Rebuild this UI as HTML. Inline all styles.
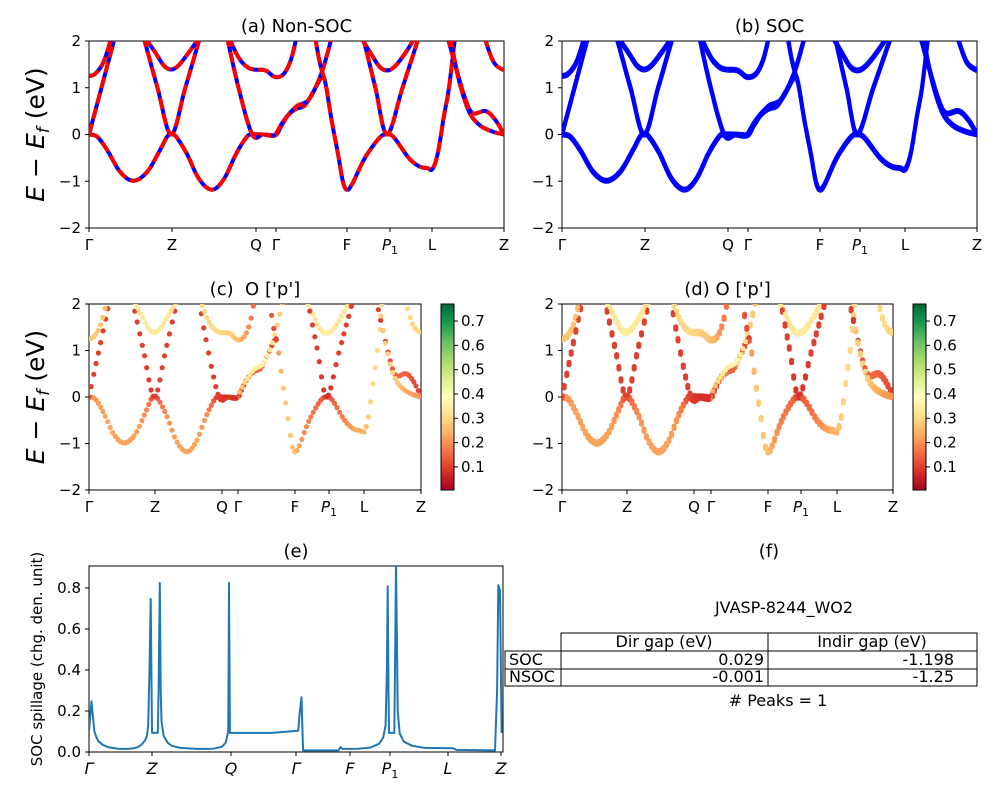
<!DOCTYPE html>
<html><head><meta charset="utf-8"><style>
html,body{margin:0;padding:0;background:#fff}
svg{display:block;font-family:"DejaVu Sans","Liberation Sans",sans-serif}
</style></head><body>
<svg id="fig" width="1000" height="800" viewBox="0 0 1000 800" xmlns="http://www.w3.org/2000/svg">
<defs>
<clipPath id="clipA"><rect x="89" y="41" width="415" height="187"/></clipPath>
<clipPath id="clipB"><rect x="562" y="41" width="415" height="187"/></clipPath>
<clipPath id="clipC"><rect x="89" y="304" width="332" height="186"/></clipPath>
<clipPath id="clipD"><rect x="562" y="304" width="331" height="186"/></clipPath>
<clipPath id="clipE"><rect x="89" y="566" width="414" height="186"/></clipPath>
<linearGradient id="cmap" x1="0" y1="1" x2="0" y2="0">
<stop offset="0" stop-color="#a50026"/><stop offset="0.1" stop-color="#d73027"/><stop offset="0.2" stop-color="#f46d43"/><stop offset="0.3" stop-color="#fdae61"/><stop offset="0.4" stop-color="#fee08b"/><stop offset="0.5" stop-color="#ffffbf"/><stop offset="0.6" stop-color="#d9ef8b"/><stop offset="0.7" stop-color="#a6d96a"/><stop offset="0.8" stop-color="#66bd63"/><stop offset="0.9" stop-color="#1a9850"/><stop offset="1" stop-color="#006837"/>
</linearGradient>
</defs>
<g id="layer"></g>
<g font-size="16" fill="#000">
<text x="784" y="613" text-anchor="middle">JVASP-8244_WO2</text>
<rect x="561" y="633" width="416" height="18" fill="none" stroke="#000"/>
<rect x="505" y="651" width="472" height="18" fill="none" stroke="#000"/>
<rect x="505" y="669" width="472" height="17" fill="none" stroke="#000"/>
<line x1="561" y1="633" x2="561" y2="686" stroke="#000"/>
<line x1="768" y1="633" x2="768" y2="686" stroke="#000"/>
<text x="664" y="647" text-anchor="middle">Dir gap (eV)</text>
<text x="872" y="647" text-anchor="middle">Indir gap (eV)</text>
<text x="509" y="665">SOC</text>
<text x="509" y="682">NSOC</text>
<text x="764" y="665" text-anchor="end">0.029</text>
<text x="954" y="665" text-anchor="end">-1.198</text>
<text x="764" y="682" text-anchor="end">-0.001</text>
<text x="954" y="682" text-anchor="end">-1.25</text>
<text x="778" y="706" text-anchor="middle"># Peaks = 1</text>
</g>
</svg>
<script>
// ---- data ----
const kLabels = ["Γ","Z","Q","Γ","F","P1","L","Z"];
const kRef = [0,0.2,0.402,0.451,0.622,0.725,0.826,1];
// bands: [k fraction, energy eV, O-p weight]
const band1 = [[0,0,.2],[.02,-.05,.21],[.045,-.35,.22],[.075,-.8,.22],[.107,-.99,.22],[.14,-.8,.22],[.17,-.35,.2],[.188,-.05,.14],[.198,0,.12],[.21,-.05,.14],[.235,-.4,.2],[.265,-.95,.22],[.296,-1.18,.22],[.325,-.95,.22],[.355,-.4,.2],[.38,-.05,.12],[.393,0,.1],[.42,0,.08],[.449,-.02,.08],[.465,.2,.1],[.481,.42,.12],[.5,.55,.14],[.52,.62,.15],[.54,.9,.13],[.561,1.22,.1],[.57,1.1,.2],[.585,.3,.27],[.6,-.4,.28],[.612,-1.0,.27],[.622,-1.18,.26],[.635,-1.05,.22],[.665,-.5,.18],[.7,-.07,.14],[.718,0,.12],[.735,-.07,.14],[.77,-.5,.18],[.795,-.68,.22],[.815,-.72,.24],[.827,-.74,.25],[.84,-.4,.28],[.855,.4,.3],[.867,1,.3],[.882,2.1,.3]];
const band2 = [[.449,-.02,.2],[.47,.3,.3],[.5,.6,.35],[.53,.75,.36],[.56,1.3,.3],[.586,2.1,.25]];
const band3 = [[0,0,.1],[.03,1.0,.1],[.063,2.1,.1]];
const band4 = [[0,1.25,.27],[.015,1.3,.27],[.035,1.55,.27],[.055,2.1,.25]];
const band5 = [[.131,2.1,.1],[.165,1.0,.1],[.198,0,.1],[.232,1.0,.1],[.268,2.1,.1]];
const band6 = [[.133,2.1,.33],[.16,1.75,.33],[.18,1.48,.33],[.198,1.39,.34],[.216,1.48,.33],[.24,1.75,.33],[.268,2.1,.3]];
const band7 = [[.332,2.1,.1],[.36,1.0,.1],[.393,0,.1],[.42,0,.08],[.449,-.02,.08]];
const band8 = [[.335,2.1,.3],[.36,1.65,.3],[.38,1.45,.3],[.397,1.39,.3],[.425,1.37,.28],[.449,1.23,.27],[.47,1.3,.22],[.487,1.6,.18],[.501,2.1,.15]];
const band9 = [[.654,2.1,.33],[.68,1.72,.33],[.7,1.45,.33],[.718,1.37,.34],[.736,1.45,.33],[.76,1.72,.33],[.787,2.1,.3]];
const band10 = [[.66,2.1,.1],[.69,1.0,.1],[.718,0,.08],[.755,1.0,.1],[.795,2.1,.1]];
const band11 = [[.952,2.1,.3],[.975,1.55,.3],[1,1.37,.3]];
const band12 = [[.863,2.1,.12],[.884,1.43,.08],[.905,.8,.12],[.924,.46,.15],[.956,.5,.15],[.98,.3,.12],[1,0,.1]];
const band13 = [[.87,2.1,.28],[.89,1.2,.28],[.915,.5,.3],[.94,.21,.25],[.97,.07,.22],[1,0,.2]];
const band14 = [[.545,2.1,.15],[.555,1.6,.12],[.565,1.25,.1]];
const bands = [band1,band2,band3,band4,band5,band6,band7,band8,band9,band10,band11,band12,band13,band14];
// spillage (e)
const spillK = [0,.006,.013,.018,.023,.033,.047,.07,.087,.105,
 .118,.127,.135,.14,.143,.146,.149,.151,.152,.166,
 .168,.171,.173,.175,.18,.19,.2,.22,.26,.3,
 .32,.33,.336,.337,.338,.34,.441,.505,.509,.513,
 .516,.517,.602,.607,.612,.65,.68,.7,.71,.716,
 .719,.721,.723,.724,.737,.739,.741,.743,.745,.75,
 .76,.78,.81,.879,.887,.98,.985,.988,.992,.996];
const spillV = [.1,.247,.1,.07,.052,.035,.023,.016,.015,.017,
 .024,.036,.055,.08,.13,.4,.746,.3,.093,.093,
 .3,.824,.3,.15,.08,.045,.03,.02,.015,.016,
 .025,.045,.1,.4,.824,.093,.093,.104,.2,.267,
 .05,.008,.008,.024,.015,.016,.022,.04,.07,.13,
 .4,.808,.3,.093,.093,.5,.909,.6,.2,.09,
 .05,.03,.02,.018,.01,.008,.3,.813,.789,.093];
const yTicksE = [-2,-1,0,1,2];
const cbTicks = [0.1,0.2,0.3,0.4,0.5,0.6,0.7];
const spillTicks = [0,0.2,0.4,0.6,0.8];

// ---- helpers ----
const NS="http://www.w3.org/2000/svg";
const layer=document.getElementById('layer');
function mk(tag,attrs,parent){const e=document.createElementNS(NS,tag);for(const k in attrs)e.setAttribute(k,attrs[k]);(parent||layer).appendChild(e);return e;}
const panels={
 a:{x0:89,x1:504,y0:41,y1:228,ticks:[89,172,256,276,347,390,432,504]},
 b:{x0:562,x1:977,y0:41,y1:228,ticks:[562,645,728,748,820,860,905,977]},
 c:{x0:89,x1:421,y0:304,y1:490,ticks:[89,155,222,238,295,329,364,421]},
 d:{x0:562,x1:893,y0:304,y1:490,ticks:[562,627,694,711,768,801,837,893]}
};
function xMap(p,k){for(let i=0;i<kRef.length-1;i++){if(k<=kRef[i+1]||i==kRef.length-2){const t=(k-kRef[i])/(kRef[i+1]-kRef[i]);return p.ticks[i]+t*(p.ticks[i+1]-p.ticks[i]);}}}
function yMap(p,E){return p.y1-(E+2)/4*(p.y1-p.y0);}
function dense(b){const out=[];for(let i=0;i<b.length-1;i++){const p0=b[Math.max(0,i-1)],p1=b[i],p2=b[i+1],p3=b[Math.min(b.length-1,i+2)];for(let s=0;s<20;s++){const t=s/20,t2=t*t,t3=t2*t;const f=(a,b2,c,d)=>0.5*((2*b2)+(-a+c)*t+(2*a-5*b2+4*c-d)*t2+(-a+3*b2-3*c+d)*t3);out.push([f(p0[0],p1[0],p2[0],p3[0]),f(p0[1],p1[1],p2[1],p3[1]),p1[2]+(p2[2]-p1[2])*t]);}}const l=b[b.length-1];out.push([l[0],l[1],l[2]]);return out;}
const stops=[[0,[165,0,38]],[.1,[215,48,39]],[.2,[244,109,67]],[.3,[253,174,97]],[.4,[254,224,139]],[.5,[255,255,191]],[.6,[217,239,139]],[.7,[166,217,106]],[.8,[102,189,99]],[.9,[26,152,80]],[1,[0,104,55]]];
function cmap(v){let n=(v-0.005)/0.765;n=Math.max(0,Math.min(1,n));for(let i=0;i<stops.length-1;i++){if(n<=stops[i+1][0]){const t=(n-stops[i][0])/(stops[i+1][0]-stops[i][0]);const c=stops[i][1].map((a,j)=>Math.round(a+t*(stops[i+1][1][j]-a)));return `rgb(${c.join(',')})`;}}return 'rgb(0,104,55)';}

function axes(p,name,title,withYLabel){
 mk('text',{x:(p.x0+p.x1)/2,y:p.y0-9,'text-anchor':'middle','font-size':18,'xml:space':'preserve'}).textContent=title;
 mk('rect',{x:p.x0,y:p.y0,width:p.x1-p.x0,height:p.y1-p.y0,fill:'none',stroke:'#000','stroke-width':1,});
 yTicksE.forEach(v=>{const y=yMap(p,v);mk('line',{x1:p.x0-4,x2:p.x0,y1:y,y2:y,stroke:'#000'});const t=mk('text',{x:p.x0-8,y:y+5,'text-anchor':'end','font-size':15});t.textContent=(v<0?'−':'')+Math.abs(v);});
 p.ticks.forEach((x,i)=>{mk('line',{x1:x,x2:x,y1:p.y1,y2:p.y1+4,stroke:'#000'});const t=mk('text',{x:x,y:p.y1+22,'text-anchor':'middle','font-size':15});if(kLabels[i]=='P1'){t.innerHTML='<tspan font-style="italic">P</tspan><tspan font-size="11" dy="4">1</tspan>';}else t.textContent=kLabels[i];});
 if(withYLabel){const cy=(p.y0+p.y1)/2;const t=mk('text',{x:44,y:cy,'text-anchor':'middle','font-size':25,transform:`rotate(-90 44 ${cy})`,});t.innerHTML='<tspan font-style="italic">E</tspan> − <tspan font-style="italic">E</tspan><tspan font-size="17" dy="5" font-style="italic">f</tspan><tspan dy="-5"> (eV)</tspan>';}
}
function pathOf(p,pts,dE){return pts.map((q,i)=>(i?'L':'M')+xMap(p,q[0]).toFixed(1)+','+yMap(p,q[1]+(dE||0)).toFixed(1)).join('');}

// (a)
axes(panels.a,'panel-a','(a) Non-SOC',true);
let gA=mk('g',{'clip-path':'url(#clipA)'});
bands.forEach(b=>{const d=pathOf(panels.a,dense(b));const l=mk('path',{d:d,fill:'none',stroke:'#0000ff','stroke-width':4},gA);const r=mk('path',{d:d,fill:'none',stroke:'#ff0000','stroke-width':4,'stroke-dasharray':'11,5'},gA);});
// (b)
axes(panels.b,'panel-b','(b) SOC',false);
let gB=mk('g',{'clip-path':'url(#clipB)'});
bands.forEach(b=>{const pts=dense(b);[-0.02,0.02].forEach(o=>{const l=mk('path',{d:pathOf(panels.b,pts,o),fill:'none',stroke:'#0000ff','stroke-width':4},gB);});});
// (c),(d)
function scatter(p,g,jit){bands.forEach(b=>{const pts=dense(b);let next=b[0][0];for(let i=0;i<pts.length;i++){const q=pts[i];if(q[0]>=next-1e-9){const c=mk('circle',{cx:xMap(p,q[0]).toFixed(1),cy:yMap(p,q[1]+jit).toFixed(1),r:2.6,fill:cmap(q[2])},g);next=q[0]+0.0065;}}});}
axes(panels.c,'panel-c',"(c)\u00a0 O ['p']",true);
scatter(panels.c,mk('g',{'clip-path':'url(#clipC)'}),0);
axes(panels.d,'panel-d',"(d) O ['p']",false);
let gD=mk('g',{'clip-path':'url(#clipD)'});scatter(panels.d,gD,-0.025);scatter(panels.d,gD,0.025);
function colorbar(x,name){mk('rect',{x:x,y:304,width:13,height:186,fill:'url(#cmap)',stroke:'#000',});cbTicks.forEach(v=>{const y=490-(v-0.005)/0.765*186;mk('line',{x1:x+13,x2:x+17,y1:y,y2:y,stroke:'#000'});const t=mk('text',{x:x+20,y:y+5,'font-size':15});t.textContent=v.toFixed(1);});}
colorbar(441,'colorbar-c');colorbar(913,'colorbar-d');
// (e)
const pe={x0:89,x1:503,y0:566,y1:752};
const eX=k=>pe.x0+k*(503.3-89);const eY=v=>pe.y1-v/0.907*(pe.y1-pe.y0);
mk('text',{x:296,y:557,'text-anchor':'middle','font-size':18,}).textContent='(e)';
mk('text',{x:769,y:557,'text-anchor':'middle','font-size':18,}).textContent='(f)';
mk('rect',{x:pe.x0,y:pe.y0,width:pe.x1-pe.x0,height:pe.y1-pe.y0,fill:'none',stroke:'#000',});
const sp=mk('path',{d:spillK.map((k,i)=>(i?'L':'M')+eX(k).toFixed(1)+','+eY(spillV[i]).toFixed(1)).join(''),fill:'none',stroke:'#1f77b4','stroke-width':2,'stroke-linejoin':'round','clip-path':'url(#clipE)'});

spillTicks.forEach(v=>{const y=eY(v);mk('line',{x1:pe.x0-4,x2:pe.x0,y1:y,y2:y,stroke:'#000'});const t=mk('text',{x:pe.x0-8,y:y+5,'text-anchor':'end','font-size':15});t.textContent=v.toFixed(1);});
const eTicks=[89,152,231,296,350,390,448,501];
eTicks.forEach((x,i)=>{mk('line',{x1:x,x2:x,y1:pe.y1,y2:pe.y1+4,stroke:'#000'});const t=mk('text',{x:x,y:pe.y1+22,'text-anchor':'middle','font-size':16,'font-style':'italic'});if(kLabels[i]=='P1')t.innerHTML='P<tspan font-size="11" dy="4" font-style="normal">1</tspan>';else t.textContent=kLabels[i];});
mk('text',{x:42,y:659,'text-anchor':'middle','font-size':15,transform:'rotate(-90 42 659)',}).textContent='SOC spillage (chg. den. unit)';
</script>
</body></html>
